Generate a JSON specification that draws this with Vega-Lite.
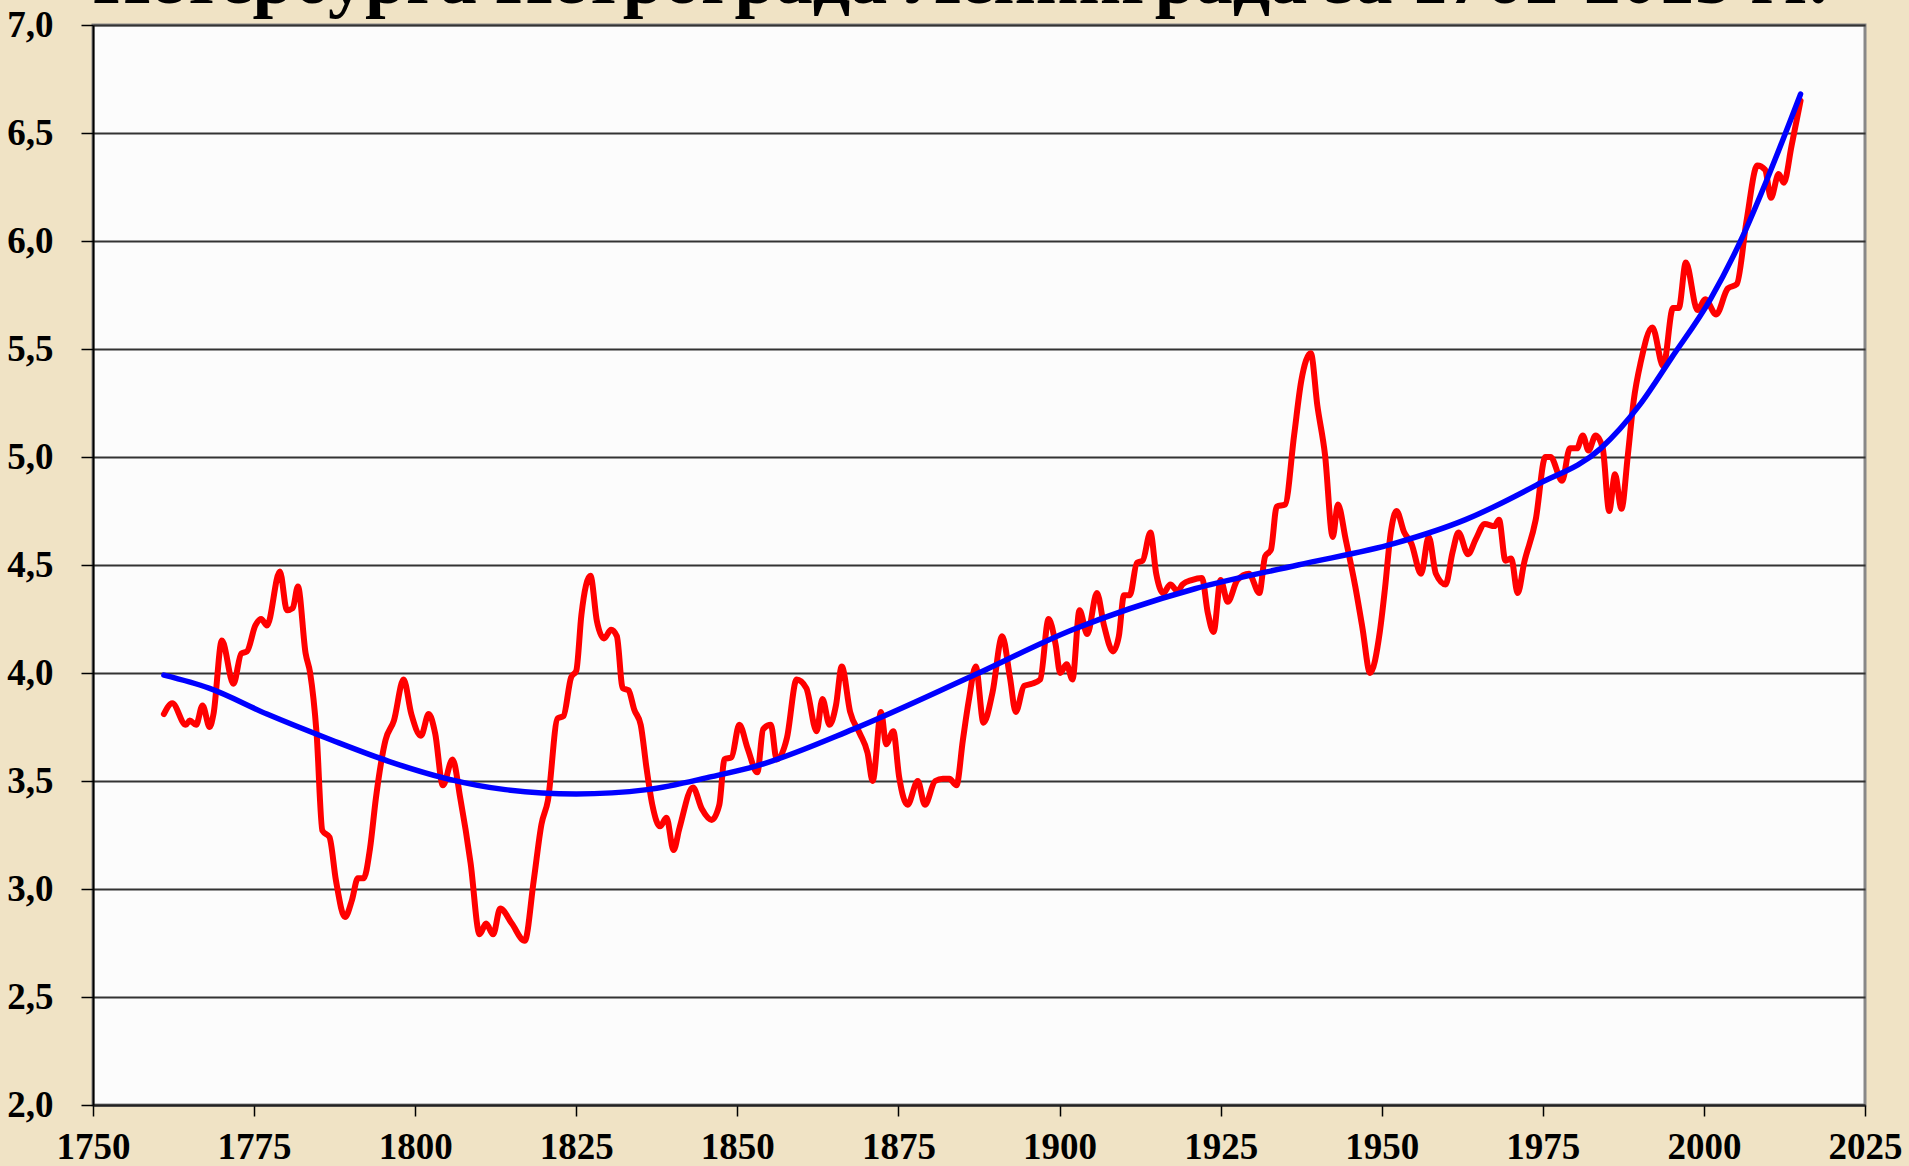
{
  "$schema": "https://vega.github.io/schema/vega-lite/v6.json",
  "autosize": {"type": "none"},
  "width": 1772,
  "height": 1080,
  "padding": {"left": 93, "top": 25, "right": 44, "bottom": 61},
  "background": "#F0E3C5",
  "title": {
    "text": "Петербурга Петрограда Ленинграда за 1761-2015 гг.",
    "font": "Liberation Serif",
    "fontSize": 74,
    "fontWeight": "bold",
    "color": "#000000",
    "anchor": "start",
    "frame": "group",
    "baseline": "alphabetic",
    "offset": 0,
    "dy": 71
  },
  "config": {
    "view": {"fill": "#FCFCFC", "stroke": "#888888", "strokeWidth": 3},
    "axis": {
      "labelFont": "Liberation Serif",
      "labelFontWeight": "bold",
      "labelFontSize": 37,
      "labelColor": "#000000",
      "tickColor": "#000000",
      "tickWidth": 1.5,
      "domainColor": "#222222",
      "domainWidth": 2,
      "title": null,
      "labelOverlap": false,
      "labelFlush": false
    }
  },
  "datasets": {
    "red": [
      {"year": 1761, "temp": 3.81}, {"year": 1762.3, "temp": 3.86}, {"year": 1764.4, "temp": 3.76},
      {"year": 1765, "temp": 3.78}, {"year": 1766, "temp": 3.76}, {"year": 1767, "temp": 3.85},
      {"year": 1768.1, "temp": 3.75}, {"year": 1768.7, "temp": 3.81}, {"year": 1770, "temp": 4.15},
      {"year": 1771.8, "temp": 3.95}, {"year": 1773, "temp": 4.09}, {"year": 1773.9, "temp": 4.10},
      {"year": 1775.2, "temp": 4.22}, {"year": 1776.1, "temp": 4.25}, {"year": 1777, "temp": 4.22},
      {"year": 1779, "temp": 4.47}, {"year": 1780.1, "temp": 4.29}, {"year": 1781, "temp": 4.30},
      {"year": 1781.8, "temp": 4.40}, {"year": 1783, "temp": 4.09}, {"year": 1783.7, "temp": 4.00},
      {"year": 1784.7, "temp": 3.72}, {"year": 1785.6, "temp": 3.27}, {"year": 1786.7, "temp": 3.24},
      {"year": 1787.7, "temp": 3.04}, {"year": 1789.1, "temp": 2.87}, {"year": 1790.2, "temp": 2.95},
      {"year": 1791.1, "temp": 3.05}, {"year": 1792, "temp": 3.05}, {"year": 1793, "temp": 3.19},
      {"year": 1793.9, "temp": 3.42}, {"year": 1795.4, "temp": 3.69}, {"year": 1796.7, "temp": 3.78},
      {"year": 1798.2, "temp": 3.97}, {"year": 1799.4, "temp": 3.81}, {"year": 1800.9, "temp": 3.71},
      {"year": 1802.1, "temp": 3.81}, {"year": 1803.1, "temp": 3.72}, {"year": 1804.3, "temp": 3.48},
      {"year": 1805.8, "temp": 3.60}, {"year": 1807, "temp": 3.42}, {"year": 1808.6, "temp": 3.12},
      {"year": 1810, "temp": 2.79}, {"year": 1811, "temp": 2.84}, {"year": 1812.1, "temp": 2.79},
      {"year": 1813.2, "temp": 2.91}, {"year": 1815, "temp": 2.84}, {"year": 1817, "temp": 2.76},
      {"year": 1818.4, "temp": 3.04}, {"year": 1819.6, "temp": 3.30}, {"year": 1820.6, "temp": 3.41},
      {"year": 1822.1, "temp": 3.79}, {"year": 1823, "temp": 3.80}, {"year": 1824.2, "temp": 3.98},
      {"year": 1825, "temp": 4.01}, {"year": 1825.8, "temp": 4.27}, {"year": 1827.2, "temp": 4.45},
      {"year": 1828.2, "temp": 4.24}, {"year": 1829.3, "temp": 4.16}, {"year": 1830.4, "temp": 4.20},
      {"year": 1831.3, "temp": 4.17}, {"year": 1832.2, "temp": 3.93}, {"year": 1833.1, "temp": 3.92},
      {"year": 1834, "temp": 3.83}, {"year": 1835, "temp": 3.76}, {"year": 1835.9, "temp": 3.56},
      {"year": 1836.8, "temp": 3.39}, {"year": 1838, "temp": 3.29}, {"year": 1839, "temp": 3.33},
      {"year": 1840.1, "temp": 3.18}, {"year": 1841, "temp": 3.28}, {"year": 1843.1, "temp": 3.47},
      {"year": 1844.5, "temp": 3.37}, {"year": 1846, "temp": 3.32}, {"year": 1847.2, "temp": 3.39},
      {"year": 1848, "temp": 3.60}, {"year": 1849.1, "temp": 3.61}, {"year": 1850.3, "temp": 3.76},
      {"year": 1851.6, "temp": 3.65}, {"year": 1853.1, "temp": 3.54}, {"year": 1854, "temp": 3.74},
      {"year": 1855.2, "temp": 3.76}, {"year": 1856.1, "temp": 3.60}, {"year": 1857.7, "temp": 3.70},
      {"year": 1859.2, "temp": 3.97}, {"year": 1860.7, "temp": 3.93}, {"year": 1862.3, "temp": 3.73},
      {"year": 1863.2, "temp": 3.88}, {"year": 1864.3, "temp": 3.76}, {"year": 1865.3, "temp": 3.85},
      {"year": 1866.2, "temp": 4.03}, {"year": 1867.5, "temp": 3.82}, {"year": 1869, "temp": 3.72},
      {"year": 1870.2, "temp": 3.63}, {"year": 1871, "temp": 3.50}, {"year": 1872.3, "temp": 3.82},
      {"year": 1873.1, "temp": 3.67}, {"year": 1874.2, "temp": 3.73}, {"year": 1875.1, "temp": 3.52},
      {"year": 1876.4, "temp": 3.39}, {"year": 1878, "temp": 3.50}, {"year": 1879.1, "temp": 3.39},
      {"year": 1880.7, "temp": 3.50}, {"year": 1881.9, "temp": 3.51}, {"year": 1882.9, "temp": 3.51},
      {"year": 1884, "temp": 3.48}, {"year": 1885, "temp": 3.69}, {"year": 1885.9, "temp": 3.87},
      {"year": 1887, "temp": 4.03}, {"year": 1888.2, "temp": 3.77}, {"year": 1889.6, "temp": 3.91},
      {"year": 1891.1, "temp": 4.17}, {"year": 1892.3, "temp": 3.98}, {"year": 1893.2, "temp": 3.82},
      {"year": 1894.5, "temp": 3.94}, {"year": 1895.7, "temp": 3.95}, {"year": 1897, "temp": 3.97},
      {"year": 1898.3, "temp": 4.25}, {"year": 1899.4, "temp": 4.13}, {"year": 1900.1, "temp": 4.00},
      {"year": 1901.1, "temp": 4.04}, {"year": 1902, "temp": 3.97}, {"year": 1903.1, "temp": 4.29},
      {"year": 1904.3, "temp": 4.18}, {"year": 1905.8, "temp": 4.37}, {"year": 1906.9, "temp": 4.22},
      {"year": 1908.3, "temp": 4.10}, {"year": 1909.2, "temp": 4.17}, {"year": 1910, "temp": 4.36},
      {"year": 1910.9, "temp": 4.36}, {"year": 1912, "temp": 4.51}, {"year": 1912.9, "temp": 4.52},
      {"year": 1914.1, "temp": 4.65}, {"year": 1915, "temp": 4.46}, {"year": 1916.1, "temp": 4.37},
      {"year": 1917.2, "temp": 4.41}, {"year": 1918.3, "temp": 4.38}, {"year": 1919.1, "temp": 4.41},
      {"year": 1920.5, "temp": 4.43}, {"year": 1922.1, "temp": 4.44}, {"year": 1923, "temp": 4.28},
      {"year": 1923.9, "temp": 4.19}, {"year": 1925, "temp": 4.43}, {"year": 1926.1, "temp": 4.33},
      {"year": 1927.6, "temp": 4.43}, {"year": 1929.4, "temp": 4.46}, {"year": 1931, "temp": 4.37},
      {"year": 1931.9, "temp": 4.54}, {"year": 1932.8, "temp": 4.57}, {"year": 1933.7, "temp": 4.77},
      {"year": 1935, "temp": 4.78}, {"year": 1936.4, "temp": 5.10}, {"year": 1937.5, "temp": 5.35},
      {"year": 1939, "temp": 5.48}, {"year": 1940, "temp": 5.24}, {"year": 1941.2, "temp": 5.01},
      {"year": 1942.4, "temp": 4.63}, {"year": 1943.2, "temp": 4.78}, {"year": 1944.4, "temp": 4.62},
      {"year": 1945.9, "temp": 4.40}, {"year": 1947, "temp": 4.21}, {"year": 1948.2, "temp": 4.00},
      {"year": 1949.7, "temp": 4.19}, {"year": 1950.5, "temp": 4.39}, {"year": 1951.4, "temp": 4.65},
      {"year": 1952.3, "temp": 4.75}, {"year": 1953.5, "temp": 4.65}, {"year": 1954.6, "temp": 4.60},
      {"year": 1956.1, "temp": 4.46}, {"year": 1957.3, "temp": 4.63}, {"year": 1958.4, "temp": 4.46},
      {"year": 1959.9, "temp": 4.41}, {"year": 1961, "temp": 4.56}, {"year": 1961.9, "temp": 4.65},
      {"year": 1963.4, "temp": 4.55}, {"year": 1964.6, "temp": 4.62}, {"year": 1966, "temp": 4.69},
      {"year": 1967.5, "temp": 4.68}, {"year": 1968.2, "temp": 4.71}, {"year": 1969.2, "temp": 4.52},
      {"year": 1970.1, "temp": 4.53}, {"year": 1971.1, "temp": 4.37}, {"year": 1972.1, "temp": 4.51},
      {"year": 1973.9, "temp": 4.71}, {"year": 1975.4, "temp": 5.00}, {"year": 1976.2, "temp": 5.00},
      {"year": 1978, "temp": 4.89}, {"year": 1979.2, "temp": 5.04}, {"year": 1980.3, "temp": 5.04},
      {"year": 1981.2, "temp": 5.10}, {"year": 1982.1, "temp": 5.03}, {"year": 1983.2, "temp": 5.10},
      {"year": 1984.3, "temp": 5.04}, {"year": 1985.3, "temp": 4.75}, {"year": 1986.2, "temp": 4.92},
      {"year": 1987.2, "temp": 4.76}, {"year": 1988.2, "temp": 5.01}, {"year": 1989.1, "temp": 5.26},
      {"year": 1990.2, "temp": 5.44}, {"year": 1992, "temp": 5.60}, {"year": 1993.7, "temp": 5.42},
      {"year": 1995.2, "temp": 5.69}, {"year": 1996.1, "temp": 5.69}, {"year": 1997.2, "temp": 5.90},
      {"year": 1999, "temp": 5.68}, {"year": 2000.2, "temp": 5.73}, {"year": 2001.9, "temp": 5.66},
      {"year": 2003.7, "temp": 5.78}, {"year": 2005.1, "temp": 5.80}, {"year": 2006.6, "temp": 6.09},
      {"year": 2008.3, "temp": 6.35}, {"year": 2009.5, "temp": 6.33}, {"year": 2010.4, "temp": 6.20},
      {"year": 2011.6, "temp": 6.31}, {"year": 2012.4, "temp": 6.27}, {"year": 2013.6, "temp": 6.44},
      {"year": 2015, "temp": 6.65}
    ],
    "trend": [
      {"year": 1761, "temp": 3.99}, {"year": 1768, "temp": 3.93}, {"year": 1777, "temp": 3.81},
      {"year": 1787, "temp": 3.69}, {"year": 1796, "temp": 3.59}, {"year": 1805, "temp": 3.51},
      {"year": 1814, "temp": 3.46}, {"year": 1825, "temp": 3.44}, {"year": 1836, "temp": 3.46},
      {"year": 1846, "temp": 3.52}, {"year": 1853, "temp": 3.57}, {"year": 1868, "temp": 3.74},
      {"year": 1886, "temp": 3.98}, {"year": 1902, "temp": 4.20}, {"year": 1921, "temp": 4.39},
      {"year": 1937, "temp": 4.50}, {"year": 1952, "temp": 4.60}, {"year": 1963, "temp": 4.71},
      {"year": 1974, "temp": 4.87}, {"year": 1984, "temp": 5.04}, {"year": 1990, "temp": 5.24},
      {"year": 1995, "temp": 5.46}, {"year": 2001, "temp": 5.73}, {"year": 2006, "temp": 6.02},
      {"year": 2010, "temp": 6.30}, {"year": 2015, "temp": 6.68}
    ]
  },
  "encoding": {
    "x": {
      "field": "year",
      "type": "quantitative",
      "scale": {"domain": [1750, 2025], "nice": false, "zero": false},
      "axis": {
        "values": [1750, 1775, 1800, 1825, 1850, 1875, 1900, 1925, 1950, 1975, 2000, 2025],
        "format": "d",
        "grid": false,
        "tickSize": 11,
        "labelPadding": 13
      }
    },
    "y": {
      "field": "temp",
      "type": "quantitative",
      "scale": {"domain": [2, 7], "nice": false, "zero": false},
      "axis": {
        "values": [2, 2.5, 3, 3.5, 4, 4.5, 5, 5.5, 6, 6.5, 7],
        "labelExpr": "replace(format(datum.value, '.1f'), '.', ',')",
        "grid": true,
        "gridColor": "#333333",
        "gridWidth": 2,
        "tickSize": 12,
        "labelPadding": 28,
        "domainColor": "#000000"
      }
    }
  },
  "layer": [
    {
      "data": {"name": "red"},
      "mark": {"type": "line", "color": "#FF0000", "strokeWidth": 6, "interpolate": "monotone", "strokeCap": "round", "strokeJoin": "round"}
    },
    {
      "data": {"name": "trend"},
      "mark": {"type": "line", "color": "#0000FF", "strokeWidth": 5.5, "interpolate": "monotone", "strokeCap": "round"}
    }
  ]
}
